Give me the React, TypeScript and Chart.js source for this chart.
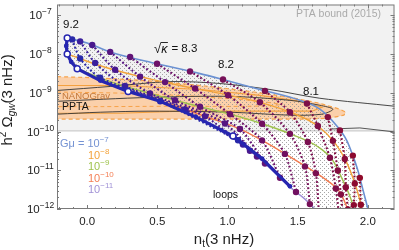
import React, { useEffect, useRef } from "react";
import { Chart, registerables } from "chart.js";

Chart.register(...registerables);

type P = [number, number];

// ---------- axes ----------
const xRange: P = [-0.215, 2.19];
const yRange: P = [1e-12, 1.91e-7];
const xTickValues = [0, 0.5, 1, 1.5, 2];
const xTickLabels = ["0.0", "0.5", "1.0", "1.5", "2.0"];
const yTickExponents = [-12, -11, -10, -9, -8, -7];
const ptaBound = 1.04e-10;

// ---------- G mu curves ----------
const gmu1e7: P[] = [
  [-0.142, 2.59e-8], [0, 1.93e-8], [0.164, 1.14e-8], [0.498, 5.62e-9], [0.804, 3.13e-9],
  [0.968, 2.2e-9], [1.231, 1.22e-9], [1.516, 6.4e-10], [1.658, 3.78e-10], [1.779, 1.39e-10],
  [1.851, 5.75e-11], [1.893, 2.39e-11], [1.929, 9.9e-12], [1.957, 4.09e-12], [1.979, 2.02e-12],
  [2.0, 1.0e-12], [2.007, 7.4e-13],
];
const gmu1e8: P[] = [
  [-0.142, 1.01e-8], [0.093, 5.0e-9], [0.377, 2.62e-9], [0.662, 1.55e-9], [0.947, 9.66e-10],
  [1.231, 5.69e-10], [1.466, 2.98e-10], [1.644, 1.39e-10], [1.765, 5.12e-11], [1.843, 1.78e-11],
  [1.9, 5.5e-12], [1.943, 1.7e-12], [1.964, 7.4e-13],
];
const gmu1e9: P[] = [
  [-0.071, 4.19e-9], [0.164, 1.95e-9], [0.448, 9.66e-10], [0.733, 5.06e-10], [1.018, 2.81e-10],
  [1.231, 1.66e-10], [1.466, 8.18e-11], [1.644, 4.05e-11], [1.751, 1.78e-11], [1.822, 5.5e-12],
  [1.872, 2.15e-12], [1.915, 7.4e-13],
];
const gmu1e10: P[] = [
  [0.292, 1.09e-9], [0.591, 5.06e-10], [0.875, 2.22e-10], [1.089, 1.16e-10], [1.253, 5.75e-11],
  [1.466, 2.0e-11], [1.708, 5.5e-12], [1.801, 2.72e-12], [1.872, 7.4e-13],
];
const gmu1e11: P[] = [
  [1.039, 7.73e-11], [1.16, 3.2e-11], [1.253, 1.67e-11], [1.445, 3.64e-12], [1.552, 1.8e-12],
  [1.658, 7.4e-13],
];

// ---------- sqrt(kappa) curves ----------
const kappa92: P[] = [
  [-0.142, 2.59e-8], [-0.149, 1.62e-8], [-0.142, 1.01e-8], [-0.114, 6.32e-9], [-0.071, 4.19e-9],
  [0.093, 2.07e-9], [0.292, 1.09e-9], [0.52, 6.04e-10], [0.776, 2.36e-10], [1.039, 7.73e-11],
  [1.246, 2.0e-11], [1.445, 3.86e-12],
];
const kappa92Decades: P[] = [
  [-0.142, 2.59e-8], [-0.142, 1.01e-8], [-0.071, 4.19e-9], [0.292, 1.09e-9], [1.039, 7.73e-11],
];
const kappa90: P[] = [[-0.107, 2.4e-8], [-0.05, 7.67e-9], [0.093, 2.45e-9], [0.52, 6.07e-10], [1.075, 5.97e-11]];
const kappa88: P[] = [[-0.05, 2.13e-8], [0.057, 5.93e-9], [0.27, 1.5e-9], [0.698, 3.72e-10], [1.11, 4.6e-11]];
const kappa86: P[] = [[0.036, 1.72e-8], [0.199, 3.93e-9], [0.448, 9.66e-10], [0.84, 2.47e-10], [1.16, 3.2e-11]];
const kappa85: P[] = [[0.164, 1.14e-8], [0.377, 2.62e-9], [0.626, 6.44e-10], [0.982, 1.61e-10], [1.21, 2.26e-11]];
const kappa84: P[] = [[0.306, 8.43e-9], [0.555, 1.89e-9], [0.804, 4.37e-10], [1.089, 1.16e-10], [1.267, 1.5e-11]];
const kappa83: P[] = [[0.498, 5.62e-9], [0.769, 1.29e-9], [1.018, 2.81e-10], [1.246, 5.93e-11], [1.374, 6.4e-12]];
const kappa825: P[] = [[0.733, 3.58e-9], [1.004, 8.69e-10], [1.246, 1.59e-10], [1.409, 2.65e-11], [1.488, 2.75e-12]];
const kappa82: P[] = [[0.968, 2.2e-9], [1.231, 5.69e-10], [1.445, 8.73e-11], [1.552, 1.26e-11], [1.587, 1.34e-12]];
const kappa815: P[] = [[1.267, 1.12e-9], [1.445, 3.16e-10], [1.573, 5.37e-11], [1.63, 8.34e-12], [1.651, 8.4e-13]];
const kappa81: P[] = [[1.566, 5.3e-10], [1.644, 1.39e-10], [1.73, 2.1e-11], [1.772, 3.37e-12], [1.794, 7.4e-13]];
const kappa805: P[] = [[1.715, 2.36e-10], [1.751, 5.75e-11], [1.786, 9.9e-12], [1.808, 2.39e-12], [1.822, 7.4e-13]];
const kappa80: P[] = [[1.801, 1.07e-10], [1.836, 1.95e-11], [1.843, 3.66e-12], [1.858, 9.7e-13]];
const kappa79: P[] = [[1.893, 2.39e-11], [1.907, 4.53e-12], [1.9, 1.26e-12]];
const kappa78: P[] = [[1.943, 6.37e-12], [1.95, 1.29e-12]];

// ---------- PTA contours ----------
const nanogravOuter: P[] = [
  [-0.214, 2.62e-9], [0.021, 2.47e-9], [0.306, 2.2e-9], [0.591, 1.84e-9], [0.875, 1.46e-9],
  [1.16, 1.09e-9], [1.445, 7.63e-10], [1.658, 5.37e-10], [1.801, 3.78e-10], [1.843, 3.16e-10],
  [1.829, 2.65e-10], [1.73, 2.22e-10], [1.587, 2.1e-10], [1.374, 2.1e-10], [0.804, 2.1e-10],
  [0.093, 2.1e-10], [-0.214, 2.1e-10], [-0.214, 2.62e-9],
];
const nanogravInner: P[] = [
  [-0.214, 1.55e-9], [0.235, 1.55e-9], [0.804, 1.22e-9], [1.231, 8.59e-10], [1.516, 6.04e-10],
  [1.673, 4.24e-10], [1.601, 3.36e-10], [1.16, 3.36e-10], [0.662, 3.36e-10], [0.235, 2.98e-10],
  [-0.214, 2.98e-10],
];
const nanogravMid: P[] = [
  [-0.214, 1.05e-9], [0.306, 9.66e-10], [0.804, 8.0e-10], [1.16, 6.4e-10], [1.374, 5.0e-10],
  [1.16, 4.5e-10], [0.591, 4.5e-10], [0.093, 4.4e-10], [-0.214, 4.4e-10],
];
const pptaLong: P[] = [
  [-0.214, 1.15e-9], [0.164, 1.46e-9], [0.591, 1.95e-9], [0.947, 1.74e-9], [1.302, 1.22e-9],
  [1.658, 7.24e-10], [2.192, 4.5e-10],
];
const pptaClosed: P[] = [
  [-0.214, 6.04e-10], [0.448, 7.63e-10], [1.018, 8.09e-10], [1.445, 6.4e-10], [1.658, 4.77e-10],
  [1.751, 3.78e-10], [1.673, 2.81e-10], [1.445, 2.65e-10], [1.018, 3.16e-10], [0.448, 3.36e-10],
  [0.093, 3.16e-10], [-0.214, 2.81e-10],
];
const pptaBoundLine: P[] = [[1.73, 1.16e-10], [1.943, 1.24e-10], [2.192, 9.77e-11]];

// ---------- styles ----------
const FONT = '"Liberation Sans", Arial, Helvetica, sans-serif';
const BLUE = "#6b91d2";
const ORANGE = "#f2a33a";
const GREEN = "#9dc24c";
const RED = "#f37a4e";
const LAVENDER = "#a090d6";
const NAVY = "#2626b0";

const pts = (a: P[]) => a.map(([x, y]) => ({ x, y }));

const line = (data: P[], color: string, width: number, extra: any = {}) => ({
  data: pts(data),
  showLine: true,
  borderColor: color,
  backgroundColor: color,
  pointBackgroundColor: color,
  borderWidth: width,
  pointRadius: 0,
  pointHoverRadius: 0,
  pointBorderWidth: 0,
  fill: false,
  tension: 0,
  ...extra,
});

const kappaLine = (data: P[], color: string) =>
  line(data, color, 2.1, { borderDash: [1.8, 2.2], pointRadius: 3.2, order: 5, tension: 0.25 });

function makeDatasets() {
  return [
    line(nanogravOuter, "#f6a24a", 1.2, { borderDash: [4, 3], order: 30 }),
    line(nanogravMid, "#f6a24a", 1.0, { borderDash: [4, 3], order: 30, tension: 0.3 }),
    line(nanogravInner, "#f4a140", 1.1, { order: 29 }),
    line(pptaLong, "#333", 0.9, { order: 28, tension: 0.3 }),
    line(pptaClosed, "#333", 0.9, { order: 28, tension: 0.3 }),
    line(pptaBoundLine, "#444", 0.9, { order: 28 }),
    line(gmu1e11, LAVENDER, 1.4, { cubicInterpolationMode: "monotone", order: 12 }),
    line(gmu1e10, RED, 1.4, { cubicInterpolationMode: "monotone", order: 12 }),
    line(gmu1e9, GREEN, 1.4, { cubicInterpolationMode: "monotone", order: 12 }),
    line(gmu1e8, ORANGE, 1.4, { cubicInterpolationMode: "monotone", order: 12 }),
    line(gmu1e7, BLUE, 1.6, { cubicInterpolationMode: "monotone", order: 11 }),
    kappaLine(kappa90, "#2a2aa8"),
    kappaLine(kappa88, "#3a1f9c"),
    kappaLine(kappa86, "#4a198e"),
    kappaLine(kappa85, "#561682"),
    kappaLine(kappa84, "#621476"),
    kappaLine(kappa83, "#6c1068"),
    kappaLine(kappa825, "#711060"),
    kappaLine(kappa82, "#761058"),
    kappaLine(kappa815, "#7a1050"),
    kappaLine(kappa81, "#7e0f48"),
    kappaLine(kappa805, "#830d40"),
    kappaLine(kappa80, "#870c3a"),
    kappaLine(kappa79, "#8c0a30"),
    kappaLine(kappa78, "#900a2a"),
    line(kappa92, NAVY, 3.2, { pointRadius: 2.4, order: 3 }),
    {
      data: pts(kappa92Decades),
      showLine: false,
      pointRadius: 3,
      pointHoverRadius: 0,
      pointBackgroundColor: "#ffffff",
      pointBorderColor: NAVY,
      pointBorderWidth: 1.5,
      order: 1,
    },
  ];
}

function polyPath(ctx: CanvasRenderingContext2D, chart: any, arr: P[], first = true) {
  const sx = chart.scales.x, sy = chart.scales.y;
  arr.forEach(([x, y], i) => {
    const px = sx.getPixelForValue(x), py = sy.getPixelForValue(y);
    if (i === 0 && first) ctx.moveTo(px, py); else ctx.lineTo(px, py);
  });
}

const backgroundPlugin = {
  id: "backgroundLayers",
  beforeDatasetsDraw(chart: any) {
    const { ctx, chartArea: a, scales } = chart;
    ctx.save();
    ctx.beginPath();
    ctx.rect(a.left, a.top, a.right - a.left, a.bottom - a.top);
    ctx.clip();
    // PTA bound region
    const yb = scales.y.getPixelForValue(ptaBound);
    ctx.fillStyle = "#f2f2f2";
    ctx.fillRect(a.left, a.top, a.right - a.left, yb - a.top);
    ctx.strokeStyle = "#cdcdcd";
    ctx.lineWidth = 1.3;
    ctx.beginPath();
    ctx.moveTo(a.left, yb);
    ctx.lineTo(a.right, yb);
    ctx.stroke();
    // NANOGrav region
    ctx.beginPath();
    polyPath(ctx, chart, nanogravOuter);
    ctx.closePath();
    ctx.fillStyle = "#fbd0aa";
    ctx.fill();
    // band of models, dotted pattern
    const tile = document.createElement("canvas");
    tile.width = 4;
    tile.height = 4;
    const g = tile.getContext("2d")!;
    g.fillStyle = "rgba(150,150,150,0.85)";
    g.fillRect(0, 0, 1, 1);
    g.fillRect(2, 2, 1, 1);
    const pattern = ctx.createPattern(tile, "repeat");
    ctx.beginPath();
    polyPath(ctx, chart, gmu1e7);
    polyPath(ctx, chart, [...gmu1e11].reverse(), false);
    polyPath(ctx, chart, [...kappa92.slice(0, 10)].reverse(), false);
    ctx.closePath();
    ctx.fillStyle = pattern as any;
    ctx.fill();
    ctx.restore();
  },
};

function richText(
  ctx: CanvasRenderingContext2D,
  pieces: { t: string; f: string; dy?: number }[],
  x: number,
  y: number,
  color: string,
  align: "left" | "center" | "right" = "left"
) {
  let total = 0;
  const widths = pieces.map((p) => {
    ctx.font = p.f;
    const w = ctx.measureText(p.t).width;
    total += w;
    return w;
  });
  let cx = align === "center" ? x - total / 2 : align === "right" ? x - total : x;
  ctx.fillStyle = color;
  ctx.textAlign = "left";
  ctx.textBaseline = "alphabetic";
  pieces.forEach((p, i) => {
    ctx.font = p.f;
    ctx.fillText(p.t, cx, y + (p.dy || 0));
    cx += widths[i];
  });
  return total;
}

const f = (size: number, style = "") => `${style} ${size}px ${FONT}`.trim();

const foregroundPlugin = {
  id: "foreground",
  afterDraw(chart: any) {
    const { ctx, chartArea: a, scales } = chart;
    const sx = scales.x, sy = scales.y;
    ctx.save();
    // frame
    ctx.strokeStyle = "#7a7a7a";
    ctx.lineWidth = 1;
    ctx.strokeRect(a.left + 0.5, a.top + 0.5, a.right - a.left - 1, a.bottom - a.top - 1);
    // x ticks
    ctx.beginPath();
    for (let k = -2; k <= 21; k++) {
      const v = k / 10;
      if (v < xRange[0] || v > xRange[1]) continue;
      const px = Math.round(sx.getPixelForValue(v)) + 0.5;
      const len = k % 5 === 0 ? 4 : 2;
      ctx.moveTo(px, a.bottom);
      ctx.lineTo(px, a.bottom - len);
      ctx.moveTo(px, a.top);
      ctx.lineTo(px, a.top + len);
    }
    // y ticks
    for (let e = -12; e <= -7; e++) {
      for (let m = 1; m <= 9; m++) {
        const v = m * Math.pow(10, e);
        if (v < yRange[0] * 0.999 || v > yRange[1]) continue;
        const py = Math.round(sy.getPixelForValue(v)) + 0.5;
        const len = m === 1 ? 4 : 2;
        ctx.moveTo(a.left, py);
        ctx.lineTo(a.left + len, py);
        ctx.moveTo(a.right, py);
        ctx.lineTo(a.right - len, py);
      }
    }
    ctx.stroke();

    // tick labels
    ctx.fillStyle = "#222";
    ctx.font = f(11.5);
    ctx.textAlign = "center";
    ctx.textBaseline = "alphabetic";
    xTickValues.forEach((v, i) => {
      ctx.fillText(xTickLabels[i], sx.getPixelForValue(v), 224.5);
    });
    yTickExponents.forEach((e) => {
      const py = sy.getPixelForValue(Math.pow(10, e));
      richText(ctx, [
        { t: "10", f: f(11.5) },
        { t: "\u2212" + Math.abs(e), f: f(8.5), dy: -5 },
      ], 40.5, py + 4, "#222", "center");
    });

    // axis titles
    richText(ctx, [
      { t: "n", f: f(15) },
      { t: "t", f: f(10), dy: 3 },
      { t: "(3 nHz)", f: f(15) },
    ], 224, 244, "#222", "center");
    ctx.save();
    ctx.translate(12, 100);
    ctx.rotate(-Math.PI / 2);
    richText(ctx, [
      { t: "h", f: f(15) },
      { t: "2", f: f(10), dy: -6 },
      { t: " \u03a9", f: f(15) },
      { t: "gw", f: f(10, "italic"), dy: 3 },
      { t: "(3 nHz)", f: f(15) },
    ], 0, 0, "#222", "center");
    ctx.restore();

    // annotations
    ctx.textAlign = "left";
    ctx.fillStyle = "#aaaaaa";
    ctx.font = f(10.5);
    ctx.fillText("PTA bound (2015)", 296, 16.5);

    ctx.fillStyle = "#111";
    ctx.font = f(11.5);
    ctx.fillText("9.2", 63, 28);
    ctx.fillText("8.2", 218, 67.5);
    ctx.fillText("8.1", 303, 95);
    // sqrt kappa = 8.3
    ctx.font = f(13, "");
    ctx.fillText("\u221a", 154, 53);
    const rw = ctx.measureText("\u221a").width;
    ctx.font = f(12.5, "italic");
    ctx.fillText("\u03ba", 154 + rw, 53);
    const kw = ctx.measureText("\u03ba").width;
    ctx.strokeStyle = "#111";
    ctx.lineWidth = 0.9;
    ctx.beginPath();
    ctx.moveTo(154 + rw - 0.5, 42.5);
    ctx.lineTo(154 + rw + kw + 0.5, 42.5);
    ctx.stroke();
    ctx.font = f(11.5);
    ctx.fillText("= 8.3", 154 + rw + kw + 4, 52);

    ctx.fillStyle = "#c4783a";
    ctx.font = f(9.5);
    ctx.fillText("NANOGrav", 62, 99);
    ctx.fillStyle = "#111";
    ctx.font = f(10.5);
    ctx.fillText("PPTA", 62, 110);
    ctx.fillText("loops", 213, 198);

    // G mu legend
    richText(ctx, [{ t: "G\u03bc = 10", f: f(11) }, { t: "\u22127", f: f(8), dy: -5 }], 60, 147, "#7593d3");
    richText(ctx, [{ t: "10", f: f(11) }, { t: "\u22128", f: f(8), dy: -5 }], 88, 158.5, "#f3a43c");
    richText(ctx, [{ t: "10", f: f(11) }, { t: "\u22129", f: f(8), dy: -5 }], 88, 170, "#9fc34e");
    richText(ctx, [{ t: "10", f: f(11) }, { t: "\u221210", f: f(8), dy: -5 }], 88, 181.5, "#f47f55");
    richText(ctx, [{ t: "10", f: f(11) }, { t: "\u221211", f: f(8), dy: -5 }], 88, 193, "#a192d6");

    ctx.restore();
  },
};

export default function App() {
  const ref = useRef<HTMLCanvasElement>(null);
  useEffect(() => {
    const canvas = ref.current!;
    const chart = new Chart(canvas, {
      type: "scatter",
      data: { datasets: makeDatasets() as any },
      options: {
        animation: false,
        responsive: false,
        devicePixelRatio: 1,
        events: [],
        layout: { padding: { top: 2, right: 4, left: 0, bottom: 0 } },
        plugins: { legend: { display: false }, tooltip: { enabled: false } },
        scales: {
          x: {
            type: "linear",
            min: xRange[0],
            max: xRange[1],
            grid: { display: false },
            border: { display: false },
            ticks: { display: false },
            afterFit: (s: any) => { s.height = 41; },
          },
          y: {
            type: "logarithmic",
            min: yRange[0],
            max: yRange[1],
            grid: { display: false },
            border: { display: false },
            ticks: { display: false },
            afterFit: (s: any) => { s.width = 57; },
          },
        },
      } as any,
      plugins: [backgroundPlugin, foregroundPlugin],
    });
    return () => chart.destroy();
  }, []);
  return (
    <div style={{ position: "fixed", left: 0, top: 0, width: 399, height: 250, background: "#fff" }}>
      <canvas ref={ref} width={399} height={250} style={{ display: "block", width: 399, height: 250 }} />
    </div>
  );
}
